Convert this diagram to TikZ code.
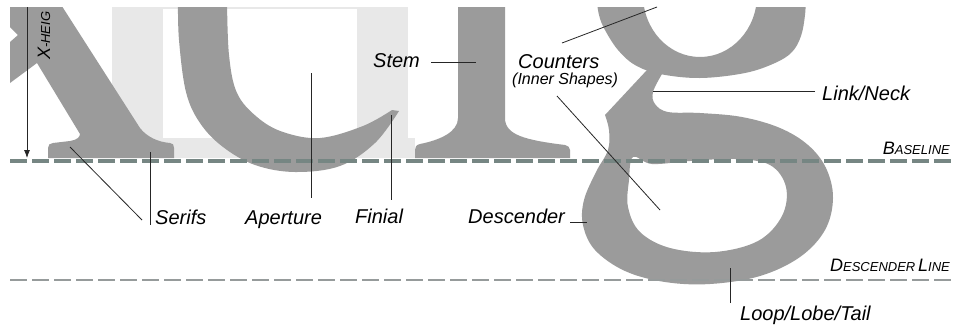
\documentclass[tikz,border=0pt]{standalone}
\usepackage{fontspec}
\setmainfont{Liberation Sans}
\usetikzlibrary{arrows.meta}
\definecolor{lettergray}{HTML}{9B9B9B}
\definecolor{ghost}{HTML}{E8E8E8}
\definecolor{baseclr}{HTML}{768683}
\definecolor{descclr}{HTML}{969B9B}
\newcommand{\capsA}[1]{{\fontsize{18}{18}\selectfont #1}}
\newcommand{\capsB}[1]{{\fontsize{13}{13}\selectfont #1}}
\tikzset{
  lbl/.style={font=\fontsize{20}{22}\selectfont\itshape, inner sep=0pt, anchor=base west},
  smlbl/.style={font=\fontsize{16}{18}\selectfont\itshape, inner sep=0pt, anchor=base west},
  sclbl/.style={font=\itshape, inner sep=0pt, anchor=base east},
  leader/.style={line width=0.8pt, draw=black!85},
  letter/.style={fill=lettergray},
  ghostfill/.style={fill=ghost},
  baseline dash/.style={draw=baseclr, line width=3.5pt, dash pattern=on 17pt off 5pt},
  desc dash/.style={draw=descclr, line width=2.8pt, dash pattern=on 17pt off 5pt}
}
\begin{document}
\begin{tikzpicture}[x=1pt,y=-1pt]
\useasboundingbox (0,0) rectangle (953,330);
\fill[white] (0,0) rectangle (953,330);

\begin{scope}
\clip (10,7) rectangle (953,330);
% ghost letter behind
\fill[ghostfill] (112,0) rectangle (163,158);
\fill[ghostfill] (357,0) rectangle (408,158);
\fill[ghostfill] (112,138) rectangle (415,158);
\fill[ghostfill] (163,7) rectangle (357,9);

% letter x
\fill[letter] (10,0) -- (58,0) -- (140,128) .. controls (147,137) and (158,142) .. (170,143)
  .. controls (173,143) and (174,145) .. (174,148) -- (174,158) -- (48,158) -- (48,148)
  .. controls (48,145) and (50,143) .. (53,143) -- (70,141) .. controls (77,140) and (80,137) .. (80,134)
  -- (37,63) -- (10,83) -- (10,42) -- (18,35) -- (10,27) -- cycle;

% letter c
\fill[letter] plot[smooth, tension=0.6] coordinates {(178,0) (179,40) (186,92) (200,123) (223,147) (255,165) (295,172) (340,166) (375,143) (399,111)}
  -- plot[smooth, tension=0.6] coordinates {(392,110) (363,126) (320,138) (283,132) (257,117) (237,93) (229,55) (227,0)} -- cycle;

% letter r
\fill[letter] (458,0) -- (458,118) .. controls (458,132) and (440,140) .. (420,144)
  .. controls (416,145) and (415,147) .. (415,150) -- (415,158) -- (570,158) -- (570,150)
  .. controls (570,147) and (568,146) .. (565,145) .. controls (525,140) and (505,135) .. (505,118)
  -- (505,0) -- cycle;

% letter g : upper bowl
\fill[letter, even odd rule] plot[smooth, tension=0.6] coordinates {(596,-5) (599,15) (605,30) (618,50) (635,65) (660,74) (700,78) (745,73) (775,63) (792,52) (801,36) (805,15) (806,-5)} -- cycle
  (700,-5) ellipse [x radius=57pt, y radius=62pt];
% letter g : neck, link and loop
\fill[letter, even odd rule] (647,70) -- plot[smooth, tension=0.6] coordinates {(605,115) (609,130) (608,150) (596,172) (584,200) (583,225) (595,250) (625,271) (665,282) (710,284) (760,276) (800,257) (825,230) (833,198) (826,168) (808,145) (780,128) (742,117) (700,113) (668,112) (655,104) (653,92) (662,74)} -- cycle
  plot[smooth cycle, tension=0.6] coordinates {(633,157) (652,164) (690,161) (735,159) (770,165) (786,187) (782,216) (758,241) (715,252) (670,248) (640,232) (628,207) (629,180)};

% guide lines
\draw[baseline dash] (10,161) -- (953,161);
\draw[desc dash] (10,280) -- (953,280);
\end{scope}

% x-height arrow
\coordinate (xhTop) at (27,7);
\coordinate (xhBot) at (27,158);
\draw[line width=0.8pt, draw=black!85, -{Latex[length=8pt,width=6pt]}] (xhTop) -- (xhBot);
\node[font=\itshape, inner sep=0pt, anchor=base west, rotate=90] (xh) at (50,60) {\capsA{X}\capsB{-HEIG}};

% labels
\node[lbl] (serifs) at (155,224) {Serifs};
\node[lbl] (aperture) at (245,224) {Aperture};
\node[lbl] (finial) at (355,223) {Finial};
\node[lbl] (descender) at (468,223) {Descender};
\node[lbl] (stem) at (373,67) {Stem};
\node[lbl] (counters) at (518,68) {Counters};
\node[smlbl] (inner) at (512,84) {(Inner Shapes)};
\node[lbl] (link) at (822,100) {Link/Neck};
\node[lbl] (loop) at (740,320) {Loop/Lobe/Tail};
\node[sclbl] (baselbl) at (950,154) {\capsA{B}\capsB{ASELINE}};
\node[sclbl] (desclbl) at (950,271) {\capsA{D}\capsB{ESCENDER} \capsA{L}\capsB{INE}};

% leader end points
\coordinate (serifA1) at (70,147);
\coordinate (serifA2) at (142,220);
\coordinate (serifB1) at (150,152);
\coordinate (serifB2) at (150,225);
\coordinate (apert1) at (311,73);
\coordinate (apert2) at (311,198);
\coordinate (finial1) at (391,115);
\coordinate (finial2) at (391,200);
\coordinate (stem1) at (431,62);
\coordinate (stem2) at (476,62);
\coordinate (cntA1) at (562,43);
\coordinate (cntA2) at (657,7);
\coordinate (cntB1) at (557,96);
\coordinate (cntB2) at (660,210);
\coordinate (link1) at (815,91);
\coordinate (link2) at (653,91);
\coordinate (desc1) at (570,222);
\coordinate (desc2) at (587,222);
\coordinate (loop1) at (730,303);
\coordinate (loop2) at (730,268);

\draw[leader] (serifA1) -- (serifA2);
\draw[leader] (serifB1) -- (serifB2);
\draw[leader] (apert1) -- (apert2);
\draw[leader] (finial1) -- (finial2);
\draw[leader] (stem1) -- (stem2);
\draw[leader] (cntA1) -- (cntA2);
\draw[leader] (cntB1) -- (cntB2);
\draw[leader] (link1) -- (link2);
\draw[leader] (desc1) -- (desc2);
\draw[leader] (loop1) -- (loop2);
\end{tikzpicture}
\end{document}
